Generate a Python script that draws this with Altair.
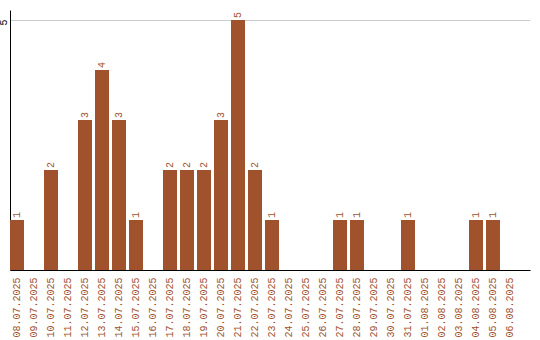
import altair as alt
import pandas as pd

dates = ["08.07.2025", "09.07.2025", "10.07.2025", "11.07.2025", "12.07.2025",
         "13.07.2025", "14.07.2025", "15.07.2025", "16.07.2025", "17.07.2025",
         "18.07.2025", "19.07.2025", "20.07.2025", "21.07.2025", "22.07.2025",
         "23.07.2025", "24.07.2025", "25.07.2025", "26.07.2025", "27.07.2025",
         "28.07.2025", "29.07.2025", "30.07.2025", "31.07.2025", "01.08.2025",
         "02.08.2025", "03.08.2025", "04.08.2025", "05.08.2025", "06.08.2025"]
counts = [1, 0, 2, 0, 3, 4, 3, 1, 0, 2, 2, 2, 3, 5, 2, 1, 0, 0, 0, 1, 1, 0, 0, 1, 0, 0, 0, 1, 1, 0]

df = pd.DataFrame({"date": dates, "count": counts})
COLOR = "#a0522d"
FONT = "Liberation Mono"

x = alt.X("date:N", sort=dates, title=None,
          scale=alt.Scale(paddingInner=3 / 17, paddingOuter=0.382, align=0),
          axis=alt.Axis(labelAngle=-90, labelAlign="right", labelBaseline="middle",
                        ticks=False, labelPadding=7, labelColor=COLOR,
                        labelFont=FONT, labelFontSize=10, domainColor="black",
                        grid=False, labelOverlap=False))
y = alt.Y("count:Q", title=None,
          scale=alt.Scale(domain=[0, 5.2], nice=False),
          axis=alt.Axis(values=[5], labelAngle=-90, labelAlign="center",
                        labelBaseline="bottom", ticks=False, labelPadding=2,
                        labelOffset=2,
                        labelFont=FONT, labelFontSize=10, labelColor="black",
                        domainColor="black", grid=True, gridColor="#cccccc"))

bars = alt.Chart(df).mark_bar(color=COLOR).encode(x=x, y=y)
labels = alt.Chart(df).transform_filter("datum.count > 0").mark_text(
    angle=270, align="left", baseline="middle", dx=2, color=COLOR,
    font=FONT, fontSize=10
).encode(x=alt.X("date:N", sort=dates), y="count:Q", text="count:Q")

chart = (bars + labels).properties(
    width=520, height=260,
    background="white",
    autosize=alt.AutoSizeParams(type="none"),
    padding={"left": 10, "top": 10, "right": 10, "bottom": 70},
).configure_view(strokeWidth=0)

chart.save("out.html", embed_options={"renderer": "svg", "actions": False})
